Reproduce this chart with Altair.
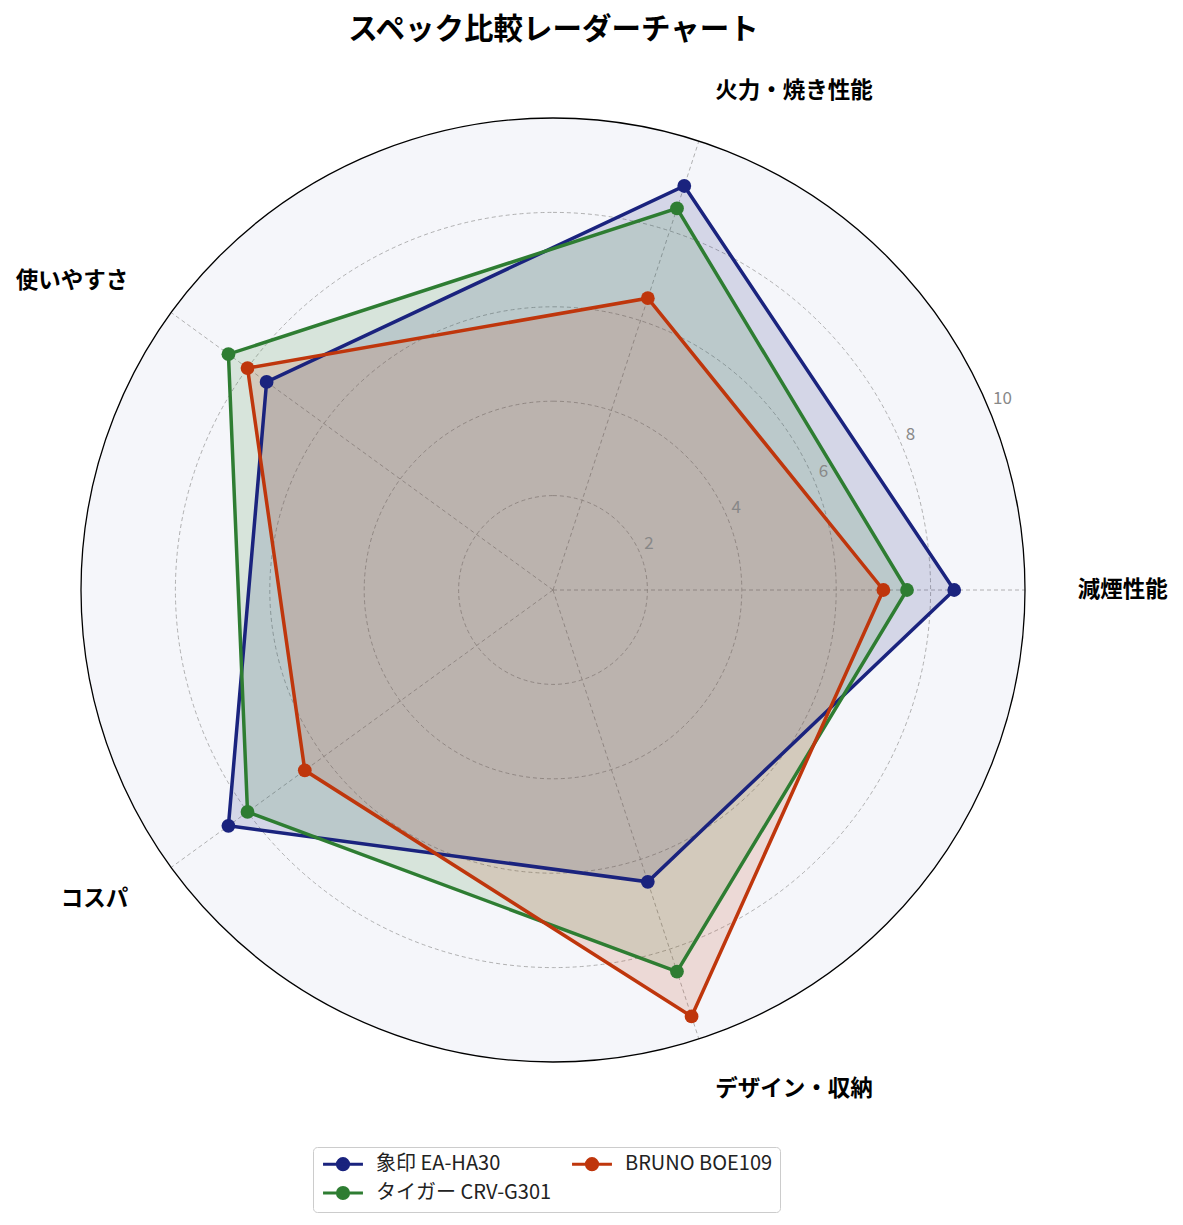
import altair as alt
import pandas as pd

# ---------------- data ----------------
categories = ["減煙性能", "火力・焼き性能", "使いやすさ", "コスパ", "デザイン・収納"]
series_names = ["象印 EA-HA30", "タイガー CRV-G301", "BRUNO BOE109"]
zojirushi = [8.5, 9.0, 7.5, 8.5, 6.5]
tiger = [7.5, 8.5, 8.5, 8.0, 8.5]
bruno = [7.0, 6.5, 8.0, 6.5, 9.5]
series_colors = ["#1a237e", "#2e7d32", "#bf360c"]
grid_levels = [2, 4, 6, 8]
tick_labels = [2, 4, 6, 8, 10]
r_max = 10
title_text = "スペック比較レーダーチャート"

# ---------------- layout ----------------
FONT = "Noto Sans CJK JP"
PX = 47.2            # pixels per unit
CX, CY = 545, 516    # centre inside plot area
W, H = 1165, 1134
PAD_TOP = 66
N = len(categories)
LABEL_R = 11.12
TICK_ANGLE_DEG = 22.5

xscale = alt.Scale(domain=[-CX / PX, (W - CX) / PX], nice=False, zero=False)
yscale = alt.Scale(domain=[-(H - CY) / PX, CY / PX], nice=False, zero=False)
rscale = alt.Scale(type="linear", domain=[0, r_max], range=[0, r_max * PX], zero=True)

rows = []
for s, vals in zip(series_names, [zojirushi, tiger, bruno]):
    for i, (c, v) in enumerate(zip(categories, vals)):
        rows.append({"series": s, "category": c, "idx": i, "value": v})
poly_df = pd.DataFrame(rows)

cat_df = pd.DataFrame({"category": categories, "idx": list(range(N))})
grid_df = pd.DataFrame({"r": grid_levels, "cx": 0, "cy": 0})
outer_df = pd.DataFrame({"r": [r_max], "cx": [0], "cy": [0]})
tick_df = pd.DataFrame({"v": tick_labels, "label": [str(t) for t in tick_labels]})

legend_domain = [series_names[0], series_names[2], series_names[1]]
legend_range = [series_colors[0], series_colors[2], series_colors[1]]
cscale = alt.Scale(domain=legend_domain, range=legend_range)

ang_expr = f"datum.idx * 2 * PI / {N}"

X = lambda f: alt.X(f, type="quantitative", scale=xscale, axis=None)
Y = lambda f: alt.Y(f, type="quantitative", scale=yscale, axis=None)
R = alt.Radius("r:Q", scale=rscale, stack=None)

disc = alt.Chart(outer_df).mark_arc(theta=0, theta2=6.28319, fill="#f5f6fa").encode(
    x=X("cx"), y=Y("cy"), radius=R
)
grid = alt.Chart(grid_df).mark_arc(
    theta=0, theta2=6.28319, filled=False, stroke="#9e9e9e", strokeWidth=0.8, strokeDash=[4, 3]
).encode(x=X("cx"), y=Y("cy"), radius=R)
outer = alt.Chart(outer_df).mark_arc(
    theta=0, theta2=6.28319, filled=False, stroke="#000000", strokeWidth=1.3
).encode(x=X("cx"), y=Y("cy"), radius=R)

spokes = alt.Chart(cat_df).transform_calculate(
    ang=ang_expr,
    ox="0", oy="0",
    sx=f"{r_max} * cos(datum.ang)",
    sy=f"{r_max} * sin(datum.ang)",
).mark_rule(stroke="#9e9e9e", strokeWidth=0.8, strokeDash=[4, 3]).encode(
    x=X("ox"), y=Y("oy"), x2="sx:Q", y2="sy:Q"
)

LEG_PATH = "M-2.85,0L2.85,0M-0.8,0A0.8,0.8,0,1,0,0.8,0A0.8,0.8,0,1,0,-0.8,0Z"
legend = alt.Legend(
    title=None, orient="none", legendX=305, legendY=1147 - 8 - PAD_TOP, direction="horizontal",
    columns=2, symbolType=LEG_PATH, symbolSize=196, symbolStrokeWidth=3,
    symbolOffset=13, labelOffset=23, labelFont=FONT, labelFontSize=20, labelColor="#222222",
    labelLimit=0, strokeColor="#cccccc", fillColor="#ffffff", padding=7, cornerRadius=4,
    rowPadding=5, columnPadding=14, symbolOpacity=1,
)

base_poly = alt.Chart(poly_df).transform_calculate(
    ang=ang_expr,
    px="datum.value * cos(datum.ang)",
    py="datum.value * sin(datum.ang)",
)

fills = base_poly.mark_line(interpolate="linear-closed", fillOpacity=0.15, strokeOpacity=0).encode(
    x=X("px"), y=Y("py"),
    fill=alt.Fill("series:N", scale=cscale, legend=legend),
    detail="series:N",
    order="idx:Q",
)
lines = base_poly.mark_line(interpolate="linear-closed", strokeWidth=3.5).encode(
    x=X("px"), y=Y("py"),
    stroke=alt.Stroke("series:N", scale=cscale, legend=legend),
    order="idx:Q",
)
points = base_poly.mark_point(filled=True, size=190, opacity=1, strokeWidth=0).encode(
    x=X("px"), y=Y("py"),
    fill=alt.Fill("series:N", scale=cscale, legend=legend),
    stroke=alt.Stroke("series:N", scale=cscale, legend=legend),
)

labels_base = alt.Chart(cat_df).transform_calculate(
    ang=ang_expr,
    c="cos(datum.ang)",
    lx=f"{LABEL_R} * cos(datum.ang)",
    ly=f"{LABEL_R} * sin(datum.ang)",
)
labels_left = labels_base.transform_filter("datum.c > 0.01").mark_text(
    align="left", baseline="middle", font=FONT, fontSize=22.5, fontWeight="bold", color="#000000"
).encode(x=X("lx"), y=Y("ly"), text="category:N")
labels_right = labels_base.transform_filter("datum.c < -0.01").mark_text(
    align="right", baseline="middle", font=FONT, fontSize=22.5, fontWeight="bold", color="#000000"
).encode(x=X("lx"), y=Y("ly"), text="category:N")

ticks = alt.Chart(tick_df).transform_calculate(
    tx=f"datum.v * cos({TICK_ANGLE_DEG} * PI / 180)",
    ty=f"datum.v * sin({TICK_ANGLE_DEG} * PI / 180)",
).mark_text(
    align="left", baseline="bottom", dx=4, dy=-1, font=FONT, fontSize=17, color="#888888"
).encode(x=X("tx"), y=Y("ty"), text="label:N")

chart = alt.layer(
    disc, grid, spokes, outer, fills, lines, points, labels_left, labels_right, ticks
).properties(
    width=W, height=H,
    autosize=alt.AutoSizeParams(type="none"),
    padding={"left": 0, "top": PAD_TOP, "right": 0, "bottom": 10},
    title=alt.TitleParams(
        text=title_text, font=FONT, fontSize=29.5, fontWeight="bold", color="#000000",
        anchor="middle", frame="group", dx=-37, offset=29,
    ),
).configure_view(strokeWidth=0)

chart.save("out.html", embed_options={"renderer": "svg", "actions": False})
